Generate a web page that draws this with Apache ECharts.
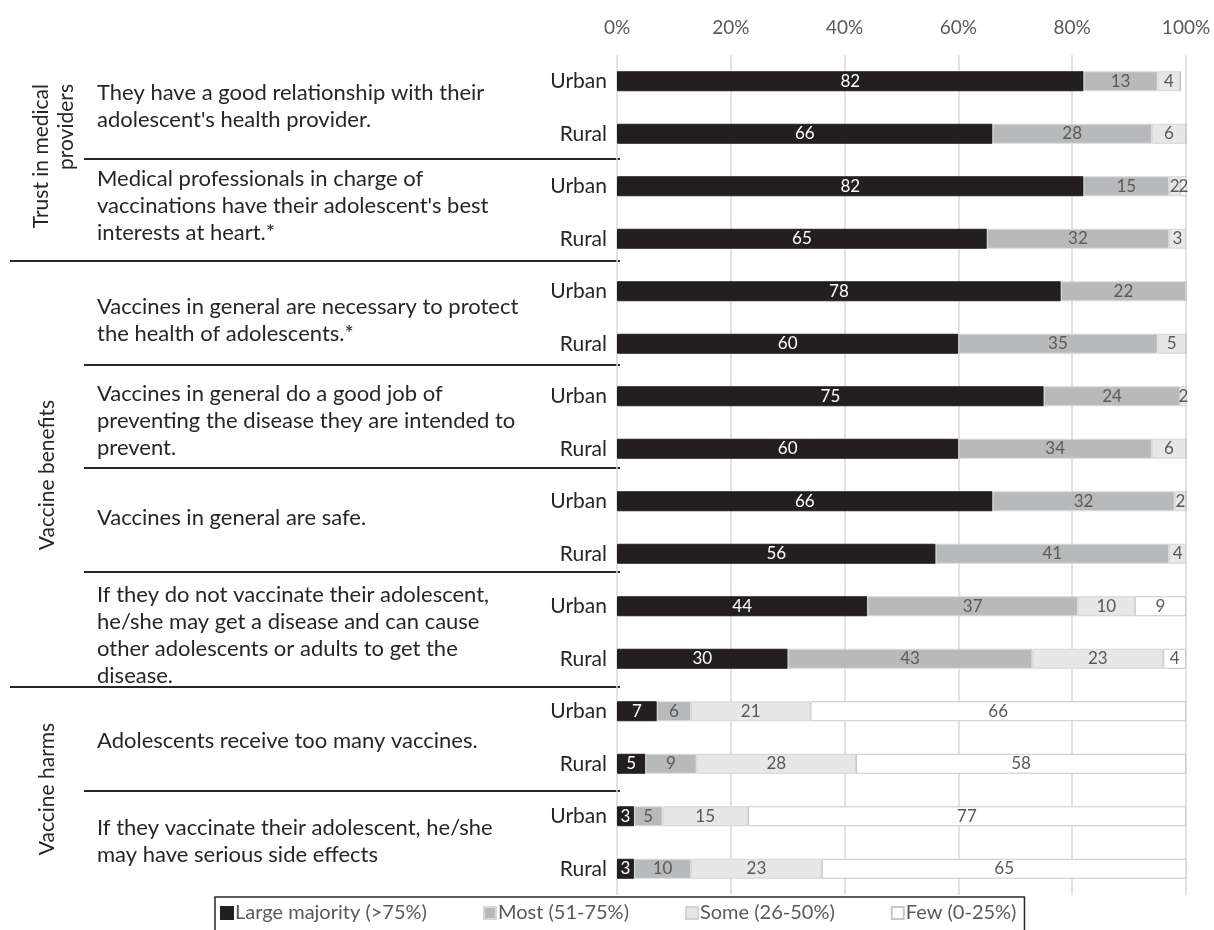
<!DOCTYPE html>
<html>
<head>
<meta charset="utf-8">
<title>Parental vaccine attitudes: urban vs rural</title>
<script src="https://cdn.jsdelivr.net/npm/echarts@6/dist/echarts.min.js"></script>
<style>
  html, body { margin: 0; padding: 0; background: #ffffff; }
  #chart { width: 1214px; height: 930px; }
</style>
</head>
<body>
<div id="chart"></div>
<script>
// Row keys (one per bar) and the place shown next to each bar
const rowKeys = ['q1u','q1r','q2u','q2r','q3u','q3r','q4u','q4r','q5u','q5r','q6u','q6r','q7u','q7r','q8u','q8r'];
const places = ['Urban','Rural','Urban','Rural','Urban','Rural','Urban','Rural',
                'Urban','Rural','Urban','Rural','Urban','Rural','Urban','Rural'];

// Share of respondents (%) per answer category
const largeMajority = [82, 66, 82, 65, 78, 60, 75, 60, 66, 56, 44, 30,  7,  5,  3,  3];
const most          = [13, 28, 15, 32, 22, 35, 24, 34, 32, 41, 37, 43,  6,  9,  5, 10];
const some          = [ 4,  6,  2,  3,  0,  5,  2,  6,  2,  4, 10, 23, 21, 28, 15, 23];
const few           = [ 0,  0,  2,  1,  0,  0,  0,  0,  0,  0,  9,  4, 66, 58, 77, 65];

const seriesNames = ['Large majority (>75%)', 'Most (51-75%)', 'Some (26-50%)', 'Few (0-25%)'];

// Statement texts and the attitude groups
const statements = [
  'They have a good relationship with their\nadolescent\'s health provider.',
  'Medical professionals in charge of\nvaccinations have their adolescent\'s best\ninterests at heart.*',
  'Vaccines in general are necessary to protect\nthe health of adolescents.*',
  'Vaccines in general do a good job of\npreventing the disease they are intended to\nprevent.',
  'Vaccines in general are safe.',
  'If they do not vaccinate their adolescent,\nhe/she may get a disease and can cause\nother adolescents or adults to get the\ndisease.',
  'Adolescents receive too many vaccines.',
  'If they vaccinate their adolescent, he/she\nmay have serious side effects'
];
const groups = ['Trust in medical\nproviders', 'Vaccine benefits', 'Vaccine harms'];

const FONT = 'Lato, "Open Sans", "Liberation Sans", sans-serif';
const TEXT_DARK = '#262626';
const TEXT_GREY = '#595959';

// Table layout on the left (vertical centres of statement blocks, rule lines)
const statementY = [106, 206, 320, 421, 518, 635, 741, 841];
const innerRules = [159, 365, 468, 572, 791];
const groupRules = [261, 687];

function segment(name, values, color, border, labelColor) {
  return {
    name: name,
    type: 'bar',
    stack: 'total',
    barWidth: 20,
    clip: true,
    data: values,
    itemStyle: { color: color, borderColor: border, borderWidth: 1 },
    label: {
      show: true,
      position: 'inside',
      color: labelColor,
      fontFamily: FONT,
      fontSize: 17,
      formatter: p => (p.value > 0 ? String(p.value) : '')
    },
    emphasis: { disabled: true }
  };
}

const graphic = [];
statements.forEach((t, i) => {
  graphic.push({
    type: 'text', x: 97, y: statementY[i],
    style: { text: t, fill: TEXT_DARK, font: '22px ' + FONT, lineHeight: 27,
             align: 'left', verticalAlign: 'middle' }
  });
});
innerRules.forEach(y => graphic.push({
  type: 'line', shape: { x1: 84, y1: y, x2: 620, y2: y },
  style: { stroke: TEXT_DARK, lineWidth: 2 }
}));
groupRules.forEach(y => graphic.push({
  type: 'line', shape: { x1: 10, y1: y, x2: 620, y2: y },
  style: { stroke: TEXT_DARK, lineWidth: 2 }
}));
// Rotated group titles
graphic.push({
  type: 'text', x: 54, y: 84, rotation: Math.PI / 2,
  style: { text: groups[0], fill: TEXT_DARK, font: '21px ' + FONT, lineHeight: 25,
           align: 'right', verticalAlign: 'middle' }
});
graphic.push({
  type: 'text', x: 47, y: 475, rotation: Math.PI / 2,
  style: { text: groups[1], fill: TEXT_DARK, font: '21px ' + FONT,
           align: 'center', verticalAlign: 'middle' }
});
graphic.push({
  type: 'text', x: 47, y: 789, rotation: Math.PI / 2,
  style: { text: groups[2], fill: TEXT_DARK, font: '21px ' + FONT,
           align: 'center', verticalAlign: 'middle' }
});

const chart = echarts.init(document.getElementById('chart'), null, { renderer: 'canvas' });
chart.setOption({
  backgroundColor: '#ffffff',
  animation: false,
  textStyle: { fontFamily: FONT },
  grid: { left: 617, right: 28, top: 55, bottom: 35, containLabel: false },
  xAxis: {
    type: 'value',
    position: 'top',
    min: 0, max: 100, interval: 20,
    axisLine: { show: false },
    axisTick: { show: false },
    axisLabel: { formatter: '{value}%', color: TEXT_GREY, fontSize: 19, margin: 18, fontFamily: FONT },
    splitLine: { show: true, lineStyle: { color: '#d9d9d9', width: 1.5 } }
  },
  yAxis: {
    type: 'category',
    inverse: true,
    data: rowKeys,
    axisLine: { show: false },
    axisTick: { show: false },
    axisLabel: {
      color: TEXT_DARK, fontSize: 21, margin: 10, fontFamily: FONT,
      formatter: (v, i) => places[i]
    }
  },
  legend: {
    left: 215, top: 897,
    data: seriesNames,
    icon: 'rect',
    itemWidth: 12, itemHeight: 12,
    itemGap: 56,
    padding: [6, 8, 10, 5],
    borderColor: TEXT_DARK, borderWidth: 1.5,
    textStyle: { color: TEXT_GREY, fontSize: 20, fontFamily: FONT, padding: [0, 0, 0, -3] },
    selectedMode: false
  },
  series: [
    segment(seriesNames[0], largeMajority, '#231f20', '#231f20', '#ffffff'),
    segment(seriesNames[1], most, '#b8b9bb', '#d9d9d9', TEXT_GREY),
    segment(seriesNames[2], some, '#e7e7e8', '#d4d4d4', TEXT_GREY),
    segment(seriesNames[3], few, '#ffffff', '#c8c8c8', TEXT_GREY)
  ],
  graphic: graphic
});
</script>
</body>
</html>
